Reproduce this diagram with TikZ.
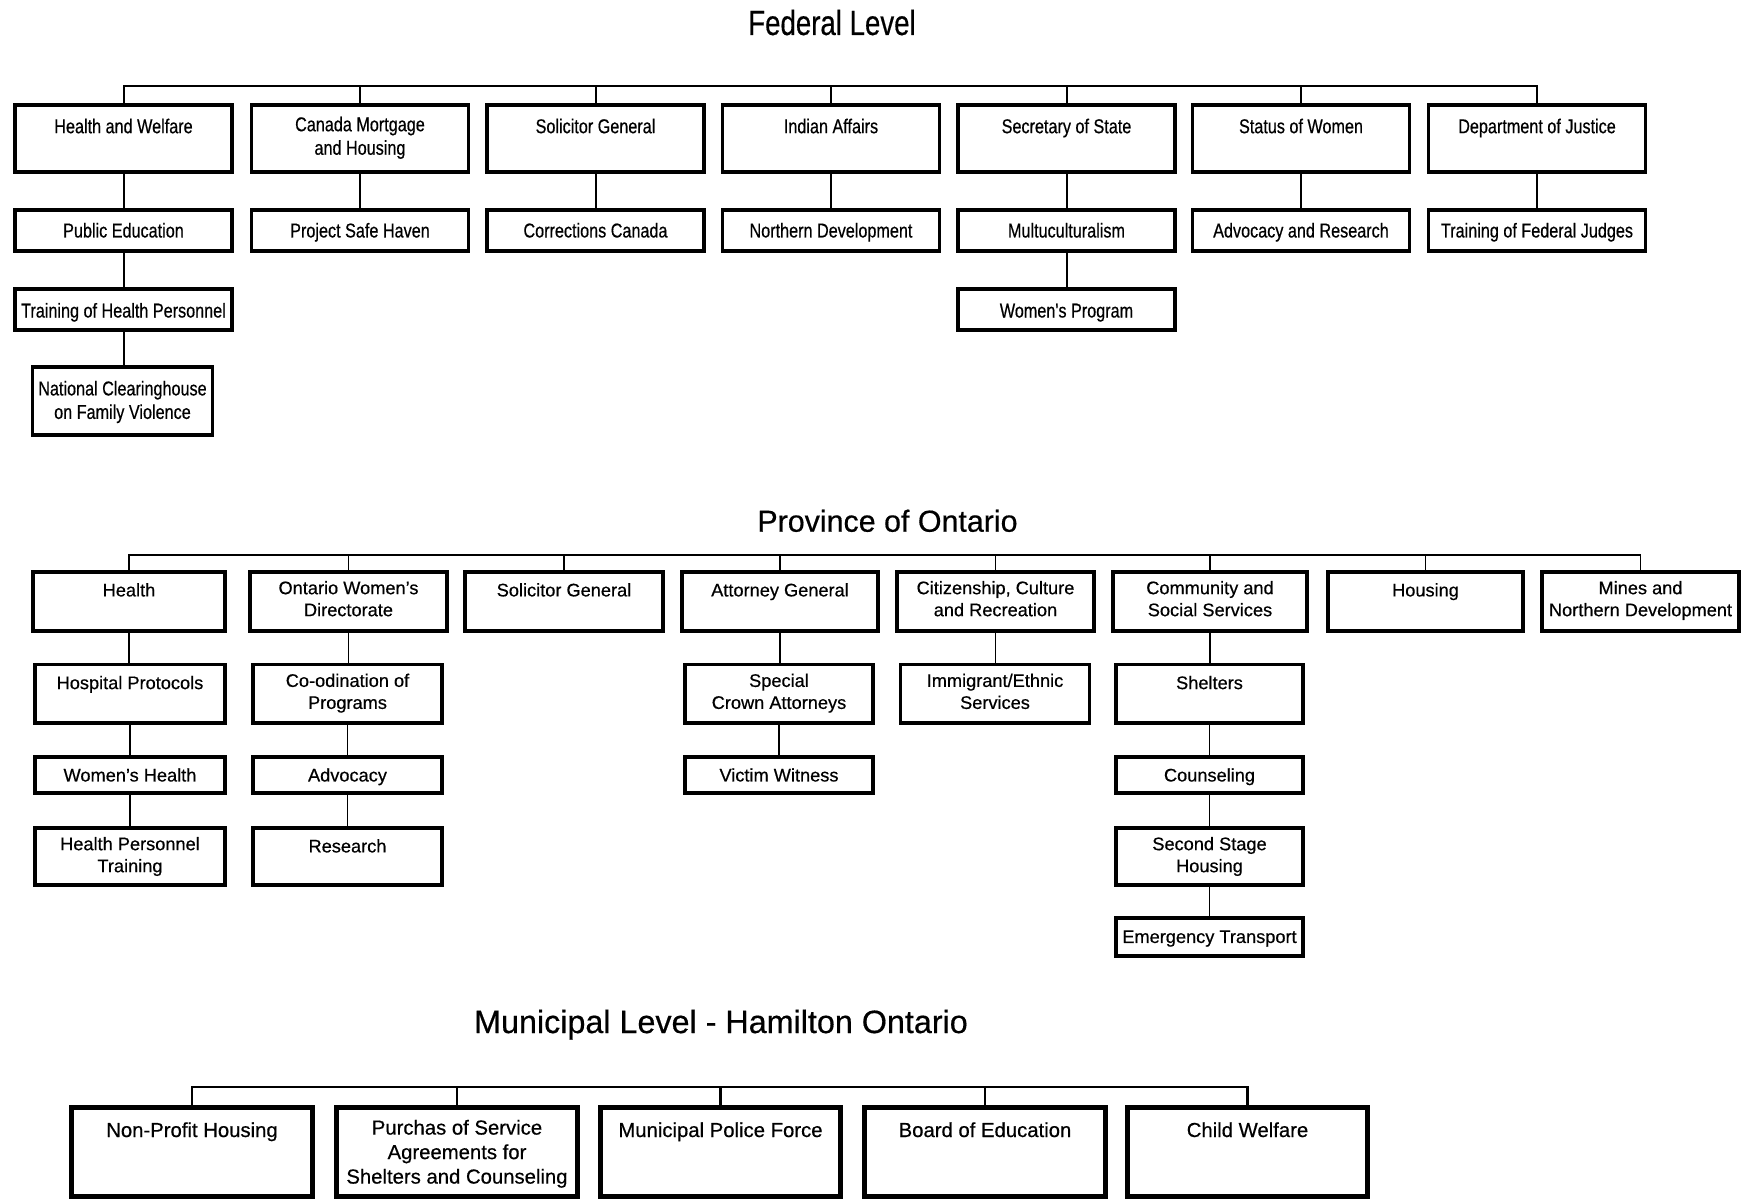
\documentclass[tikz,border=0pt]{standalone}
\usepackage{fontspec}
\setmainfont{Liberation Sans}[FakeBold=0.5]
\newfontfamily\fedfont[FakeStretch=0.81,FakeBold=0.5]{Liberation Sans}
\newfontfamily\fedtitlefont[FakeStretch=0.79,FakeBold=0.4]{Liberation Sans}
\begin{document}
\begin{tikzpicture}[x=1pt,y=-1pt,
  box/.style={draw, rectangle, inner sep=0pt, line width=3.8pt, fill=white},
  mbox/.style={draw, rectangle, inner sep=0pt, line width=4.8pt, fill=white,
               minimum width=240.5pt, minimum height=89.5pt},
  fw/.style={minimum width=217pt},
  fr1/.style={minimum height=67pt},
  fr2/.style={minimum height=41pt},
  fr3/.style={minimum height=41.5pt},
  pr1/.style={minimum height=59.2pt},
  pr2/.style={minimum height=58.8pt},
  pr3/.style={minimum height=36.5pt},
  pr4/.style={minimum height=57.2pt},
  pr5/.style={minimum height=37.5pt},
  fl/.style={anchor=north, inner sep=0pt, align=center,
             font=\fedfont\fontsize{20}{23.5}\selectfont, execute at begin node=\strut},
  pl/.style={anchor=north, inner sep=0pt, align=center, yshift=-11pt,
             font=\fontsize{18.2}{22}\selectfont, execute at begin node=\strut},
  ml/.style={anchor=north, inner sep=0pt, align=center, yshift=-14.8pt,
             font=\fontsize{20.3}{24.5}\selectfont, execute at begin node=\strut},
  fline/.style={line width=2pt},
  pline/.style={line width=1.3pt},
  mline/.style={line width=2.6pt}
]
\fill[white] (0,0) rectangle (1750,1201);
\useasboundingbox (0,0) rectangle (1750,1201);

% ---------------- Titles ----------------
\node[anchor=base, inner sep=0pt, font=\fedtitlefont\fontsize{35}{40}\selectfont] (ftitle) at (832,35) {Federal Level};
\node[anchor=base, inner sep=0pt, font=\fontsize{30.4}{36}\selectfont] (ptitle) at (887.5,531.7) {Province of Ontario};
\node[anchor=base, inner sep=0pt, font=\fontsize{32.3}{38}\selectfont] (mtitle) at (721,1033) {Municipal Level - Hamilton Ontario};

\coordinate (fbus) at (0,86);
\coordinate (pbus) at (0,555);
\coordinate (mbus) at (0,1087);

% ---------------- Federal ----------------
\node[box,fw,fr1,label={[fl,yshift=-13.2pt]90:Health and Welfare}] (hw) at (123.5,138.75) {};
\node[box,fw,fr1,label={[fl,yshift=-13.2pt]90:{Canada Mortgage\\and Housing}}] (cmh) at (360,138.75) {};
\node[box,fw,fr1,label={[fl,yshift=-13.2pt]90:Solicitor General}] (sg) at (595.5,138.75) {};
\node[box,fw,fr1,label={[fl,yshift=-13.2pt]90:Indian Affairs}] (ia) at (831,138.75) {};
\node[box,fw,fr1,label={[fl,yshift=-13.2pt]90:Secretary of State}] (ss) at (1066.5,138.75) {};
\node[box,fw,fr1,label={[fl,yshift=-13.2pt]90:Status of Women}] (sw) at (1301,138.75) {};
\node[box,fw,fr1,label={[fl,yshift=-13.2pt]90:Department of Justice}] (dj) at (1537,138.75) {};

\node[box,fw,fr2,label={[fl,yshift=-12.7pt]90:Public Education}] (pe) at (123.5,230.5) {};
\node[box,fw,fr2,label={[fl,yshift=-12.7pt]90:Project Safe Haven}] (psh) at (360,230.5) {};
\node[box,fw,fr2,label={[fl,yshift=-12.7pt]90:Corrections Canada}] (cc) at (595.5,230.5) {};
\node[box,fw,fr2,label={[fl,yshift=-12.7pt]90:Northern Development}] (nd) at (831,230.5) {};
\node[box,fw,fr2,label={[fl,yshift=-12.7pt]90:Multuculturalism}] (mc) at (1066.5,230.5) {};
\node[box,fw,fr2,label={[fl,yshift=-12.7pt]90:Advocacy and Research}] (ar) at (1301,230.5) {};
\node[box,fw,fr2,label={[fl,yshift=-12.7pt]90:Training of Federal Judges}] (tfj) at (1537,230.5) {};

\node[box,fw,fr3,label={[fl,yshift=-14pt]90:Training of Health Personnel}] (thp) at (123.5,309.5) {};
\node[box,fw,fr3,label={[fl,yshift=-14pt]90:Women's Program}] (wp) at (1066.5,309.5) {};

\node[box,minimum width=180pt,minimum height=68pt,label={[fl,yshift=-15.8pt]90:{National Clearinghouse\\on Family Violence}}] (nch) at (122.5,400.8) {};

\draw[fline] (hw.north) -- (hw.north |- fbus) -- (dj.north |- fbus) -- (dj.north);
\foreach \n in {cmh,sg,ia,ss,sw} {\draw[fline] (\n.north) -- (\n.north |- fbus);}
\draw[fline] (hw.south) -- (hw.south |- pe.north);
\draw[fline] (cmh.south) -- (cmh.south |- psh.north);
\draw[fline] (sg.south) -- (sg.south |- cc.north);
\draw[fline] (ia.south) -- (ia.south |- nd.north);
\draw[fline] (ss.south) -- (ss.south |- mc.north);
\draw[fline] (sw.south) -- (sw.south |- ar.north);
\draw[fline] (dj.south) -- (dj.south |- tfj.north);
\draw[fline] (pe.south) -- (pe.south |- thp.north);
\draw[fline] (mc.south) -- (mc.south |- wp.north);
\draw[fline] (thp.south) -- (thp.south |- nch.north);

% ---------------- Province ----------------
\node[box,pr1,minimum width=192.5pt,label={[pl]90:Health}] (ph) at (129,601.3) {};
\node[box,pr1,minimum width=197.5pt,label={[pl]90:{Ontario Women's\\Directorate}}] (owd) at (348.5,601.3) {};
\node[box,pr1,minimum width=198.5pt,label={[pl]90:Solicitor General}] (psg) at (564,601.3) {};
\node[box,pr1,minimum width=196.5pt,label={[pl]90:Attorney General}] (ag) at (780,601.3) {};
\node[box,pr1,minimum width=197.5pt,label={[pl]90:{Citizenship, Culture\\and Recreation}}] (ccr) at (995.5,601.3) {};
\node[box,pr1,minimum width=194.5pt,label={[pl]90:{Community and\\Social Services}}] (css) at (1210,601.3) {};
\node[box,pr1,minimum width=195.5pt,label={[pl]90:Housing}] (phs) at (1425.5,601.3) {};
\node[box,pr1,minimum width=197.5pt,label={[pl]90:{Mines and\\Northern Development}}] (mnd) at (1640.5,601.3) {};

\node[box,pr2,minimum width=190.5pt,label={[pl]90:Hospital Protocols}] (hp) at (130,693.8) {};
\node[box,pr2,minimum width=189.5pt,label={[pl]90:{Co-odination of\\Programs}}] (cop) at (347.5,693.8) {};
\node[box,pr2,minimum width=188.5pt,label={[pl]90:{Special\\Crown Attorneys}}] (sca) at (779,693.8) {};
\node[box,pr2,minimum width=189pt,label={[pl]90:{Immigrant/Ethnic\\Services}}] (ies) at (995,693.8) {};
\node[box,pr2,minimum width=187.5pt,label={[pl]90:Shelters}] (sh) at (1209.5,693.8) {};

\node[box,pr3,minimum width=190.5pt,label={[pl]90:Women's Health}] (wh) at (130,775) {};
\node[box,pr3,minimum width=189.5pt,label={[pl]90:Advocacy}] (adv) at (347.5,775) {};
\node[box,pr3,minimum width=188.5pt,label={[pl]90:Victim Witness}] (vw) at (779,775) {};
\node[box,pr3,minimum width=187.5pt,label={[pl]90:Counseling}] (cou) at (1209.5,775) {};

\node[box,pr4,minimum width=190.5pt,label={[pl]90:{Health Personnel\\Training}}] (hpt) at (130,856.3) {};
\node[box,pr4,minimum width=189.5pt,label={[pl]90:Research}] (res) at (347.5,856.3) {};
\node[box,pr4,minimum width=187.5pt,label={[pl]90:{Second Stage\\Housing}}] (ssh) at (1209.5,856.3) {};

\node[box,pr5,minimum width=187.5pt,label={[pl]90:Emergency Transport}] (et) at (1209.5,937) {};

\draw[pline] (ph.north) -- (ph.north |- pbus) -- (mnd.north |- pbus) -- (mnd.north);
\foreach \n in {owd,psg,ag,ccr,css,phs} {\draw[pline] (\n.north) -- (\n.north |- pbus);}
\draw[pline] (ph.south) -- (ph.south |- hp.north);
\draw[pline] (hp.south) -- (hp.south |- wh.north);
\draw[pline] (wh.south) -- (wh.south |- hpt.north);
\draw[pline] (owd.south) -- (owd.south |- cop.north);
\draw[pline] (cop.south) -- (cop.south |- adv.north);
\draw[pline] (adv.south) -- (adv.south |- res.north);
\draw[pline] (ag.south) -- (ag.south |- sca.north);
\draw[pline] (sca.south) -- (sca.south |- vw.north);
\draw[pline] (ccr.south) -- (ccr.south |- ies.north);
\draw[pline] (css.south) -- (css.south |- sh.north);
\draw[pline] (sh.south) -- (sh.south |- cou.north);
\draw[pline] (cou.south) -- (cou.south |- ssh.north);
\draw[pline] (ssh.south) -- (ssh.south |- et.north);

% ---------------- Municipal ----------------
\node[mbox,label={[ml]90:Non-Profit Housing}] (nph) at (192,1152) {};
\node[mbox,label={[ml]90:{Purchas of Service\\Agreements for\\Shelters and Counseling}}] (psa) at (457,1152) {};
\node[mbox,label={[ml]90:Municipal Police Force}] (mpf) at (720.5,1152) {};
\node[mbox,label={[ml]90:Board of Education}] (boe) at (985,1152) {};
\node[mbox,label={[ml]90:Child Welfare}] (cw) at (1247.5,1152) {};

\draw[mline] (nph.north) -- (nph.north |- mbus) -- (cw.north |- mbus) -- (cw.north);
\foreach \n in {psa,mpf,boe} {\draw[mline] (\n.north) -- (\n.north |- mbus);}
\end{tikzpicture}
\end{document}
